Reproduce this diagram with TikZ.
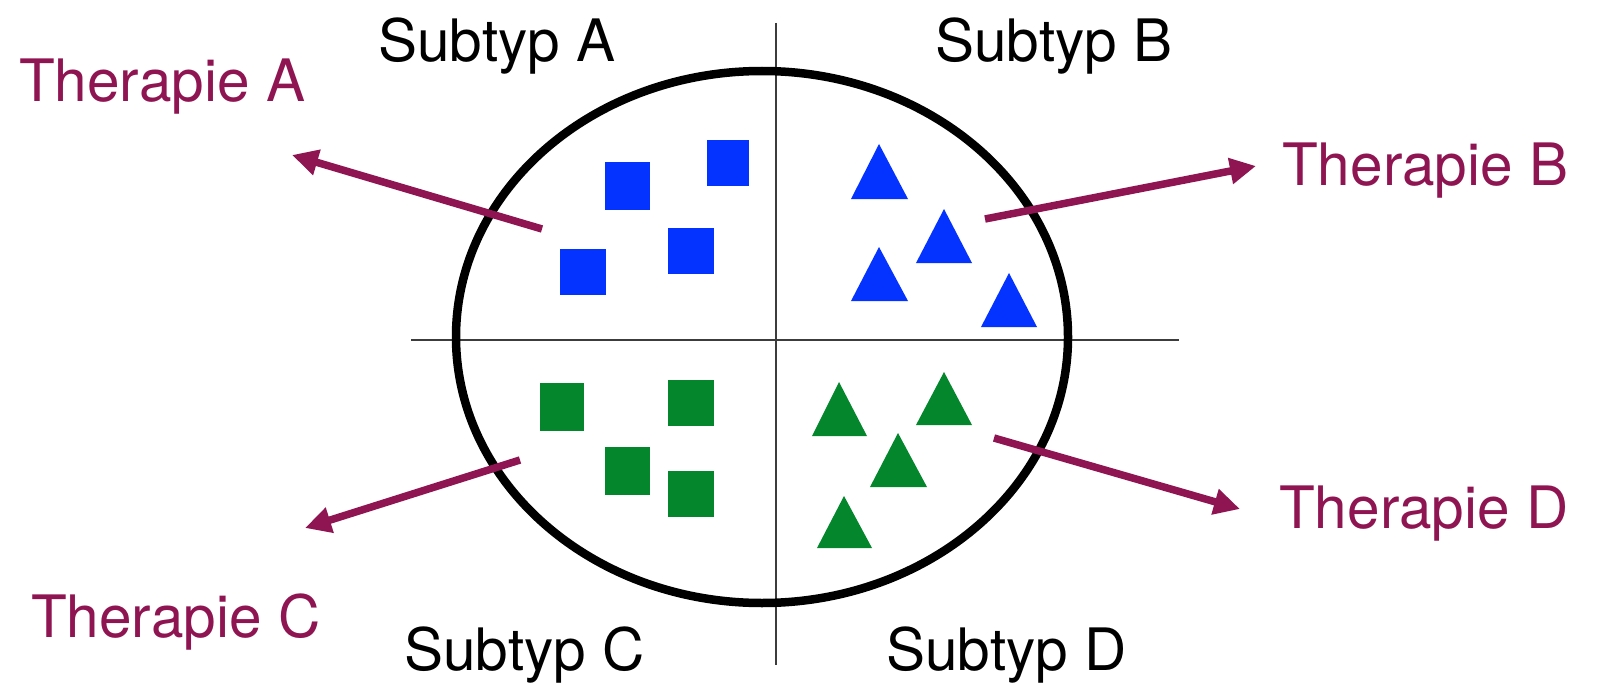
\documentclass[tikz,border=0pt]{standalone}
\usepackage{fontspec}
\setmainfont{TeX Gyre Heros}
\usetikzlibrary{arrows.meta}
\definecolor{therapy}{RGB}{143,21,82}
\definecolor{bluemark}{RGB}{4,51,255}
\definecolor{greenmark}{RGB}{3,134,44}
\definecolor{axis}{RGB}{60,60,60}
\tikzset{
  label/.style={inner sep=0pt, anchor=base west, font=\fontsize{58.5}{60}\selectfont},
  subtype/.style={label, text=black},
  therapylabel/.style={label, text=therapy},
  therapyarrow/.style={draw=therapy, line width=7.5pt, -{Triangle[length=26pt,width=25pt]}},
  axisline/.style={draw=axis, line width=1.4pt},
  bluebox/.style={fill=bluemark},
  greenbox/.style={fill=greenmark},
}
\begin{document}
\begin{tikzpicture}[x=1pt,y=-1pt]
\useasboundingbox (0,0) rectangle (1599,685);

% quadrant axes
\draw[axisline] (776,23) -- (776,665);
\draw[axisline] (411,340) -- (1179,340);

% population
\draw[line width=8.5pt] (762,337) ellipse [x radius=306, y radius=266];

% subtype A: blue squares
\fill[bluebox] (605,162) rectangle (650,210);
\fill[bluebox] (707,140) rectangle (749,186);
\fill[bluebox] (668,228) rectangle (714,274);
\fill[bluebox] (560,249) rectangle (606,295);

% subtype B: blue triangles
\fill[bluebox] (879,144) -- (908,199) -- (851,199) -- cycle;
\fill[bluebox] (944,209) -- (972,263) -- (916,263) -- cycle;
\fill[bluebox] (879,247) -- (908,301) -- (851,301) -- cycle;
\fill[bluebox] (1009,273) -- (1037,327) -- (981,327) -- cycle;

% subtype C: green squares
\fill[greenbox] (540,383) rectangle (584,431);
\fill[greenbox] (668,380) rectangle (714,426);
\fill[greenbox] (605,447) rectangle (650,495);
\fill[greenbox] (668,471) rectangle (714,517);

% subtype D: green triangles
\fill[greenbox] (839,382) -- (867,436) -- (812,436) -- cycle;
\fill[greenbox] (944,372) -- (972,425) -- (916,425) -- cycle;
\fill[greenbox] (898,433) -- (927,487) -- (870,487) -- cycle;
\fill[greenbox] (844,496) -- (872,548) -- (817,548) -- cycle;

% subtype labels
\node[subtype] (subA) at (378,62) {Subtyp A};
\node[subtype] (subB) at (935,62) {Subtyp B};
\node[subtype] (subC) at (404,670) {Subtyp C};
\node[subtype] (subD) at (886,670) {Subtyp D};

% therapy labels
\node[therapylabel] (thA) at (19,102) {Therapie A};
\node[therapylabel] (thB) at (1282,185) {Therapie B};
\node[therapylabel] (thC) at (31,637) {Therapie C};
\node[therapylabel] (thD) at (1279,528) {Therapie D};

% arrow ends
\coordinate (fromA) at (542,229);
\coordinate (toA) at (292,155);
\coordinate (fromB) at (985,219);
\coordinate (toB) at (1256,166);
\coordinate (fromC) at (520,460);
\coordinate (toC) at (305,528);
\coordinate (fromD) at (994,438);
\coordinate (toD) at (1240,509);

\draw[therapyarrow] (fromA) -- (toA);
\draw[therapyarrow] (fromB) -- (toB);
\draw[therapyarrow] (fromC) -- (toC);
\draw[therapyarrow] (fromD) -- (toD);
\end{tikzpicture}
\end{document}
